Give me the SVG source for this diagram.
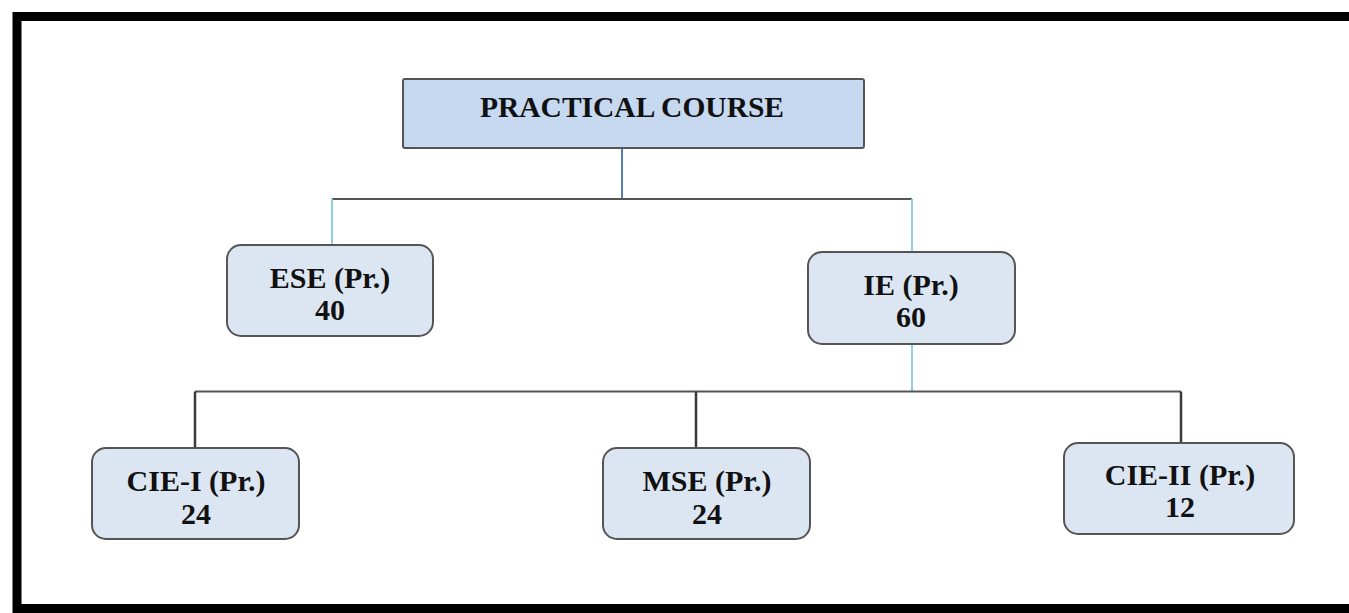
<svg xmlns="http://www.w3.org/2000/svg" width="1349" height="613" viewBox="0 0 1349 613">
<style>
.node{fill:#dce6f2;stroke:#555;stroke-width:2}
.top{fill:#c6d9f0;stroke:#555;stroke-width:2}
.t{font-family:"Liberation Serif","Times New Roman",serif;font-weight:bold;font-size:30px;fill:#111;text-anchor:middle}
.dk{stroke:#555;stroke-width:2;fill:none}
.dk2{stroke:#3a3a3a;stroke-width:2.5;fill:none}
.bl{stroke:#4f81bd;stroke-width:2;fill:none}
.cy{stroke:#8fd0e0;stroke-width:2;fill:none}
</style>
<rect x="0" y="0" width="1349" height="613" fill="#fff"/>
<rect x="17" y="16.5" width="1350" height="592" fill="none" stroke="#000" stroke-width="9"/>
<g id="connectors">
<line class="bl" x1="622" y1="148" x2="622" y2="199"/>
<line class="dk" x1="332" y1="199" x2="912" y2="199"/>
<line class="cy" x1="332" y1="199" x2="332" y2="245"/>
<line class="cy" x1="912" y1="199" x2="912" y2="252"/>
<line class="cy" x1="912" y1="344" x2="912" y2="391"/>
<line class="dk" x1="195" y1="391.5" x2="1181" y2="391.5"/>
<line class="dk2" x1="195" y1="391.5" x2="195" y2="448"/>
<line class="dk2" x1="696" y1="391.5" x2="696" y2="448"/>
<line class="dk2" x1="1181" y1="391.5" x2="1181" y2="443"/>
</g>
<g id="practical-course">
<rect class="top" x="403" y="79" width="461" height="69" rx="2"/>
<text class="t" x="632" y="117" style="font-size:29.5px">PRACTICAL COURSE</text>
</g>
<g id="ese">
<rect class="node" x="227" y="245" width="206" height="91" rx="14"/>
<text class="t" x="330" y="288">ESE (Pr.)</text>
<text class="t" x="330" y="320">40</text>
</g>
<g id="ie">
<rect class="node" x="808" y="252" width="207" height="92" rx="14"/>
<text class="t" x="911" y="295">IE (Pr.)</text>
<text class="t" x="911" y="327">60</text>
</g>
<g id="cie-i">
<rect class="node" x="92" y="448" width="207" height="91" rx="14"/>
<text class="t" x="196" y="491">CIE-I (Pr.)</text>
<text class="t" x="196" y="524">24</text>
</g>
<g id="mse">
<rect class="node" x="603" y="448" width="207" height="91" rx="14"/>
<text class="t" x="707" y="491">MSE (Pr.)</text>
<text class="t" x="707" y="524">24</text>
</g>
<g id="cie-ii">
<rect class="node" x="1064" y="443" width="230" height="91" rx="14"/>
<text class="t" x="1180" y="485">CIE-II (Pr.)</text>
<text class="t" x="1180" y="517">12</text>
</g>
</svg>
